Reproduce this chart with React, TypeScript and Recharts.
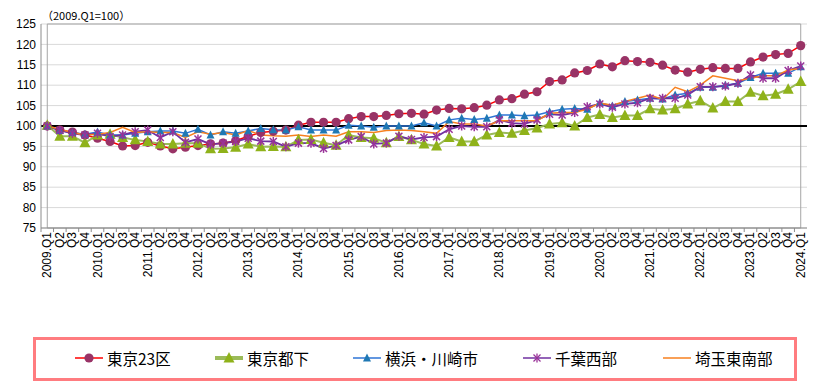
import React from 'react';
import { LineChart, Line, XAxis, YAxis, CartesianGrid, ReferenceLine, ReferenceArea, Legend } from 'recharts';

const quarters = [
  '2009.Q1', 'Q2', 'Q3', 'Q4', '2010.Q1', 'Q2', 'Q3', 'Q4', '2011.Q1', 'Q2', 'Q3', 'Q4',
  '2012.Q1', 'Q2', 'Q3', 'Q4', '2013.Q1', 'Q2', 'Q3', 'Q4', '2014.Q1', 'Q2', 'Q3', 'Q4',
  '2015.Q1', 'Q2', 'Q3', 'Q4', '2016.Q1', 'Q2', 'Q3', 'Q4', '2017.Q1', 'Q2', 'Q3', 'Q4',
  '2018.Q1', 'Q2', 'Q3', 'Q4', '2019.Q1', 'Q2', 'Q3', 'Q4', '2020.Q1', 'Q2', 'Q3', 'Q4',
  '2021.Q1', 'Q2', 'Q3', 'Q4', '2022.Q1', 'Q2', 'Q3', 'Q4', '2023.Q1', 'Q2', 'Q3', 'Q4',
  '2024.Q1',
];

const tokyo23 = [
  100, 99.0, 98.5, 97.8, 97.0, 96.2, 95.1, 95.2, 96.0, 95.1, 94.4, 94.8,
  95.2, 95.6, 95.8, 96.4, 97.5, 98.4, 98.7, 99.0, 100.2, 100.9, 100.9, 100.9,
  101.8, 102.3, 102.3, 102.6, 103.0, 103.1, 102.9, 103.9, 104.3, 104.2, 104.5, 105.1,
  106.4, 106.7, 107.8, 108.4, 110.9, 111.3, 113.0, 113.6, 115.2, 114.5, 116.0, 115.8,
  115.6, 114.9, 113.7, 113.2, 113.9, 114.3, 114.1, 114.1, 115.7, 116.9, 117.5, 117.8,
  119.7,
];

const tokyoToka = [
  100.2, 97.5, 97.5, 95.9, 97.8, 98.0, 97.2, 96.6, 96.2, 95.6, 95.6, 95.8,
  95.8, 94.4, 94.5, 94.8, 95.6, 94.9, 95.0, 94.9, 96.6, 96.7, 95.9, 95.3,
  97.8, 97.2, 97.0, 95.9, 97.4, 96.6, 95.6, 95.1, 97.2, 96.2, 96.2, 97.8,
  98.4, 98.2, 98.9, 99.5, 100.5, 100.8, 100.0, 102.1, 102.8, 102.1, 102.6, 102.6,
  104.2, 103.9, 104.2, 105.4, 106.2, 104.4, 106.0, 106.0, 108.3, 107.4, 107.8, 109.0,
  110.9,
];

const yokohama = [
  100, 98.9, 98.4, 98.0, 98.5, 97.8, 97.8, 98.2, 98.6, 98.8, 98.8, 98.2,
  99.2, 97.8, 98.6, 98.2, 98.8, 99.4, 99.1, 99.0, 99.8, 99.0, 99.0, 99.0,
  100.2, 100.0, 99.7, 100.0, 100.0, 100.0, 100.8, 100.0, 101.5, 101.9, 101.6, 101.9,
  102.7, 102.7, 102.5, 102.7, 103.5, 104.1, 104.3, 104.1, 105.7, 104.9, 106.0, 106.4,
  106.8, 106.6, 107.6, 108.0, 109.5, 109.5, 110.0, 110.5, 111.9, 112.9, 112.9, 112.9,
  114.5,
];

const chibaWest = [
  100, 98.9, 98.2, 97.8, 98.2, 97.4, 97.8, 98.6, 99.0, 97.2, 98.6, 96.0,
  96.8, 95.5, 95.8, 96.2, 97.0, 96.3, 96.2, 94.9, 95.8, 95.8, 94.5, 95.2,
  96.6, 97.4, 95.6, 95.8, 97.5, 96.7, 97.2, 97.4, 99.2, 100.0, 99.8, 99.8,
  101.5, 100.7, 100.5, 101.5, 102.9, 102.7, 103.3, 104.7, 105.4, 104.6, 105.4, 105.7,
  106.8, 106.8, 106.8, 107.6, 109.6, 109.6, 109.8, 110.5, 112.5, 111.7, 111.7, 113.6,
  114.7,
];

const saitamaSE = [
  100, 99.2, 98.4, 97.8, 98.0, 98.4, 99.7, 98.4, 98.6, 98.4, 98.4, 97.2,
  98.6, 98.0, 98.4, 97.8, 98.9, 97.8, 97.6, 97.5, 97.8, 97.4, 97.8, 97.5,
  98.6, 98.6, 98.4, 98.9, 99.0, 98.9, 98.6, 98.2, 101.1, 100.5, 100.5, 100.0,
  101.3, 101.3, 101.3, 101.3, 103.1, 103.3, 103.3, 104.1, 105.6, 105.1, 106.0, 106.8,
  107.6, 106.5, 109.5, 108.4, 110.0, 112.3, 111.7, 111.1, 111.7, 112.3, 112.3, 113.7,
  114.1,
];

const yTicks = [75, 80, 85, 90, 95, 100, 105, 110, 115, 120, 125];

const data = quarters.map((q, i) => ({
  q,
  tokyo23: tokyo23[i],
  tokyoToka: tokyoToka[i],
  yokohama: yokohama[i],
  chibaWest: chibaWest[i],
  saitamaSE: saitamaSE[i],
}));

const COL = {
  red: '#ff0000',
  maroon: '#993366',
  greenLine: '#9bbb59',
  green: '#8fb21a',
  blueLine: '#2e75d6',
  blue: '#1f78b4',
  purpleLine: '#7030a0',
  purple: '#993399',
  orange: '#f7811f',
};

const FONT = '"Liberation Sans", Arial, sans-serif';
const CJK = '"Noto Sans CJK JP", "Liberation Sans", sans-serif';

const PLOT_BOTTOM = 228;
const BAND = 766 / quarters.length;

const CircleDot = (p: any) => {
  if (p.cx == null || p.cy == null) return <g key={p.key} />;
  return <circle key={p.key} cx={p.cx} cy={p.cy} r={4.6} fill={COL.maroon} />;
};

const GreenTri = (p: any) => {
  if (p.cx == null || p.cy == null) return <g key={p.key} />;
  const { cx, cy } = p;
  return (
    <polygon key={p.key} points={`${cx},${cy - 6} ${cx - 5.5},${cy + 4.5} ${cx + 5.5},${cy + 4.5}`} fill={COL.green} />
  );
};

const BlueTri = (p: any) => {
  if (p.cx == null || p.cy == null) return <g key={p.key} />;
  const { cx, cy } = p;
  return (
    <polygon key={p.key} points={`${cx},${cy - 4.5} ${cx - 4},${cy + 3.5} ${cx + 4},${cy + 3.5}`} fill={COL.blue} />
  );
};

const StarDot = (p: any) => {
  if (p.cx == null || p.cy == null) return <g key={p.key} />;
  const { cx, cy } = p;
  const s = 3.5;
  return (
    <g key={p.key} stroke={COL.purple} strokeWidth={1.5}>
      <line x1={cx} y1={cy - 4.5} x2={cx} y2={cy + 4.5} />
      <line x1={cx - s} y1={cy - s} x2={cx + s} y2={cy + s} />
      <line x1={cx - s} y1={cy + s} x2={cx + s} y2={cy - s} />
    </g>
  );
};

const XTick = (props: any) => {
  const { x, y, payload } = props;
  const bx = x - BAND / 2;
  return (
    <g>
      <line x1={bx} y1={PLOT_BOTTOM} x2={bx} y2={PLOT_BOTTOM + 4} stroke="#8c8c8c" />
      <text
        transform={`translate(${x},${y}) rotate(-90)`}
        textAnchor="end"
        dominantBaseline="central"
        fontSize={12}
        fontFamily={FONT}
        fill="#000"
      >
        {payload.value}
      </text>
    </g>
  );
};

const legendItems = [
  { name: '東京23区', left: 39, line: COL.red, icon: 'circle' },
  { name: '東京都下', left: 179, line: COL.greenLine, icon: 'tri' },
  { name: '横浜・川崎市', left: 317, line: COL.blueLine, icon: 'btri' },
  { name: '千葉西部', left: 487, line: COL.purpleLine, icon: 'star' },
  { name: '埼玉東南部', left: 627, line: COL.orange, icon: 'none' },
];

const LegendIcon = ({ item }: { item: any }) => {
  const cx = 14;
  const cy = 9;
  return (
    <svg width={30} height={18} style={{ display: 'block' }}>
      <line x1={0} y1={cy} x2={28} y2={cy} stroke={item.line} strokeWidth={item.icon === 'tri' ? 4 : 1.5} />
      {item.icon === 'circle' && <circle cx={cx} cy={cy} r={4.6} fill={COL.maroon} />}
      {item.icon === 'tri' && (
        <polygon points={`${cx},${cy - 6} ${cx - 5.5},${cy + 4.5} ${cx + 5.5},${cy + 4.5}`} fill={COL.green} />
      )}
      {item.icon === 'btri' && (
        <polygon points={`${cx},${cy - 4.5} ${cx - 4},${cy + 3.5} ${cx + 4},${cy + 3.5}`} fill={COL.blue} />
      )}
      {item.icon === 'star' && (
        <g stroke={COL.purple} strokeWidth={1.3}>
          <line x1={cx} y1={cy - 4.5} x2={cx} y2={cy + 4.5} />
          <line x1={cx - 3.5} y1={cy - 3.5} x2={cx + 3.5} y2={cy + 3.5} />
          <line x1={cx - 3.5} y1={cy + 3.5} x2={cx + 3.5} y2={cy - 3.5} />
        </g>
      )}
    </svg>
  );
};

const renderLegend = () => (
  <div
    style={{
      position: 'relative',
      width: 764,
      height: 44,
      boxSizing: 'border-box',
      border: '3px solid #ff7c80',
      background: '#fff',
    }}
  >
    {legendItems.map((it) => (
      <div
        key={it.name}
        style={{
          position: 'absolute',
          left: it.left,
          top: 9,
          display: 'flex',
          alignItems: 'center',
          whiteSpace: 'nowrap',
        }}
      >
        <LegendIcon item={it} />
        <span style={{ fontFamily: CJK, fontSize: 15.5, color: '#000', marginLeft: 2, lineHeight: '18px' }}>
          {it.name}
        </span>
      </div>
    ))}
  </div>
);

export default function App() {
  return (
    <div style={{ position: 'absolute', left: 0, top: 0, width: 817, height: 391, background: '#fff' }}>
      <div
        style={{
          position: 'absolute',
          left: 42,
          top: 7,
          fontFamily: CJK,
          fontSize: 11,
          color: '#000',
          whiteSpace: 'nowrap',
        }}
      >
        （2009.Q1=100）
      </div>
      <LineChart width={817} height={391} data={data} margin={{ top: 24, right: 10, left: 0, bottom: 0 }}>
        <CartesianGrid vertical={false} stroke="#d9d9d9" />
        <XAxis
          dataKey="q"
          interval={0}
          height={163}
          padding={{ left: BAND / 2, right: BAND / 2 }}
          tickLine={false}
          tickSize={2}
          tickMargin={2}
          axisLine={{ stroke: '#8c8c8c' }}
          tick={XTick}
        />
        <YAxis
          domain={[75, 125]}
          ticks={yTicks}
          width={41}
          tickLine={false}
          tickSize={3}
          tickMargin={2}
          axisLine={{ stroke: '#8c8c8c' }}
          tick={{ fontSize: 12, fontFamily: FONT, fill: '#000' }}
          interval={0}
        />
        <ReferenceArea y1={75} y2={125} fill="none" stroke="#a6a6a6" strokeWidth={1} />
        <ReferenceLine y={100} stroke="#000" strokeWidth={2} />
        <Line dataKey="tokyo23" name="東京23区" stroke={COL.red} strokeWidth={1.5} dot={CircleDot} isAnimationActive={false} />
        <Line dataKey="tokyoToka" name="東京都下" stroke={COL.greenLine} strokeWidth={2} dot={GreenTri} isAnimationActive={false} />
        <Line dataKey="yokohama" name="横浜・川崎市" stroke={COL.blueLine} strokeWidth={1.5} dot={BlueTri} isAnimationActive={false} />
        <Line dataKey="chibaWest" name="千葉西部" stroke={COL.purpleLine} strokeWidth={1.8} dot={StarDot} isAnimationActive={false} />
        <Line dataKey="saitamaSE" name="埼玉東南部" stroke={COL.orange} strokeWidth={1.5} dot={false} isAnimationActive={false} />
        <Legend
          layout="horizontal"
          verticalAlign="middle"
          align="center"
          content={renderLegend}
          wrapperStyle={{ left: 33, top: 337, width: 764, height: 44 }}
        />
      </LineChart>
    </div>
  );
}
